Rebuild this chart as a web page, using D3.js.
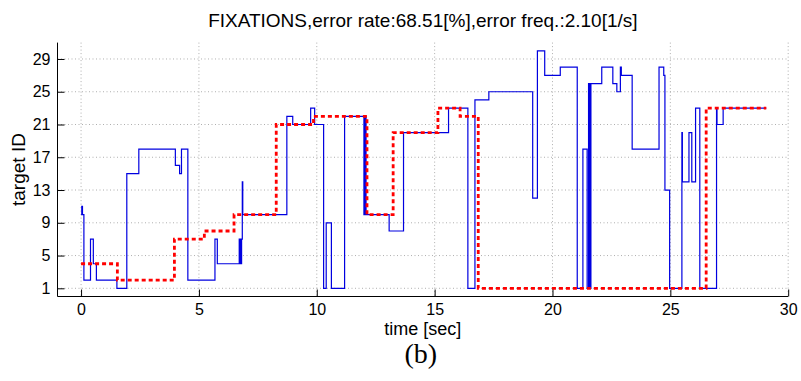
<!DOCTYPE html>
<html>
<head>
<meta charset="utf-8">
<script src="https://cdn.jsdelivr.net/npm/d3@7"></script>
<style>
  html, body { margin: 0; padding: 0; background: #fff; }
  svg { display: block; }
  text { font-family: "Liberation Sans", Arial, Helvetica, sans-serif; fill: #000; }
</style>
</head>
<body>
<svg id="chart" width="801" height="381"></svg>
<script>
// Axis ticks
const timeTicks = [0, 5, 10, 15, 20, 25, 30];
const idTicks = [1, 5, 9, 13, 17, 21, 25, 29];

// Measured gaze: start time [s] of each fixation and the target ID it landed on
const gazeTimes = [0, 0.03, 0.06, 0.12, 0.4, 0.52, 0.65, 1.52, 1.94, 2.45,
  4.0, 4.18, 4.26, 4.53, 5.68, 5.78, 6.71, 6.74, 6.77, 6.79,
  6.81, 6.84, 6.86, 8.73, 8.98, 9.74, 9.91, 10.29, 10.4, 10.62,
  11.18, 12.0, 12.03, 12.05, 12.07, 12.09, 13.07, 13.68, 15.59, 16.41,
  16.71, 17.3, 19.16, 19.36, 19.67, 20.33, 21.05, 21.29, 21.47, 21.53,
  21.56, 21.59, 21.61, 21.63, 22.09, 22.56, 22.73, 22.88, 22.92, 23.38,
  24.52, 24.72, 24.77, 24.97, 25.49, 25.51, 25.79, 25.91, 26.07, 26.25,
  26.96, 26.98, 27.24, 29.07];
const gazeIds = [10, 11, 10, 2, 7, 4, 2, 1, 15, 18,
  16, 15, 18, 2, 7, 4, 7, 4, 7, 4,
  7, 14, 10, 22, 21, 23, 21, 1, 9, 1,
  22, 10, 22, 10, 22, 10, 8, 20, 23, 1,
  24, 25, 12, 30, 27, 28, 1, 18, 1, 26,
  1, 26, 1, 26, 28, 26, 25, 28, 27, 18,
  28, 27, 13, 1, 20, 14, 20, 14, 23, 1,
  23, 21, 23, 23];

// Intended target: start time [s] and target ID
const truthTimes = [0, 1.54, 3.96, 5.23, 6.49, 8.28, 9.86, 12.13, 13.24, 15.14, 16.08, 16.85, 26.52, 29.07];
const truthIds = [4, 2, 7, 8, 10, 21, 22, 10, 20, 23, 22, 1, 23, 23];

const svg = d3.select("#chart");
const plotLeft = 57.5, plotRight = 788.2, plotTop = 42.6, plotBottom = 296.5;

const x = d3.scaleLinear().domain([-1, 30]).range([plotLeft, plotRight]);
const y = d3.scaleLinear().domain([0, 31]).range([plotBottom, plotTop]);

// Dotted grid
const grid = svg.append("g").attr("stroke", "#9a9a9a").attr("stroke-width", 0.8)
  .attr("stroke-dasharray", "1,2.5").attr("fill", "none");
grid.selectAll("line.v").data(timeTicks).join("line").attr("class", "v")
  .attr("x1", d => x(d)).attr("x2", d => x(d)).attr("y1", plotTop).attr("y2", plotBottom);
grid.selectAll("line.h").data(idTicks).join("line").attr("class", "h")
  .attr("x1", plotLeft).attr("x2", plotRight).attr("y1", d => y(d)).attr("y2", d => y(d));

// Data lines
const gaze = gazeTimes.map((t, i) => [t, gazeIds[i]]);
const truth = truthTimes.map((t, i) => [t, truthIds[i]]);
const stepLine = d3.line().x(d => x(d[0])).y(d => y(d[1])).curve(d3.curveStepAfter);

svg.append("path").datum(gaze).attr("d", stepLine)
  .attr("fill", "none").attr("stroke", "#0000e0").attr("stroke-width", 1.2)
  .attr("stroke-linejoin", "miter");
svg.append("path").datum(truth).attr("d", stepLine)
  .attr("fill", "none").attr("stroke", "#ff0000").attr("stroke-width", 2.8)
  .attr("stroke-dasharray", "4,3");

// Axes (inward ticks)
const xAxis = d3.axisBottom(x).tickValues(timeTicks).tickSize(-7).tickPadding(7).tickFormat(d3.format("d"));
const yAxis = d3.axisLeft(y).tickValues(idTicks).tickSize(-7).tickPadding(7).tickFormat(d3.format("d"));

const gx = svg.append("g").attr("transform", `translate(0,${plotBottom})`).call(xAxis);
const gy = svg.append("g").attr("transform", `translate(${plotLeft},0)`).call(yAxis);
[gx, gy].forEach(g => {
  g.select(".domain").attr("stroke", "#000").attr("stroke-width", 1);
  g.selectAll(".tick line").attr("stroke", "#000").attr("stroke-width", 1);
  g.selectAll(".tick text").attr("font-size", 16).attr("font-family", "Liberation Sans, Arial, sans-serif").attr("fill", "#000");
});
gx.select(".domain").attr("d", `M${plotLeft},0H${plotRight}`);
gy.select(".domain").attr("d", `M0,${plotBottom}V${plotTop}`);

// Title and axis labels
svg.append("text").attr("x", (plotLeft + plotRight) / 2).attr("y", 27)
  .attr("text-anchor", "middle").attr("font-size", 19)
  .text("FIXATIONS,error rate:68.51[%],error freq.:2.10[1/s]");
svg.append("text").attr("x", (plotLeft + plotRight) / 2).attr("y", 335)
  .attr("text-anchor", "middle").attr("font-size", 18)
  .text("time [sec]");
svg.append("text").attr("transform", `translate(25,${(plotTop + plotBottom) / 2}) rotate(-90)`)
  .attr("text-anchor", "middle").attr("font-size", 19)
  .text("target ID");
svg.append("text").attr("x", (plotLeft + plotRight) / 2 - 2).attr("y", 363)
  .attr("text-anchor", "middle").attr("font-size", 28)
  .style("font-family", "'Liberation Serif', 'DejaVu Serif', serif")
  .text("(b)");
</script>
</body>
</html>
